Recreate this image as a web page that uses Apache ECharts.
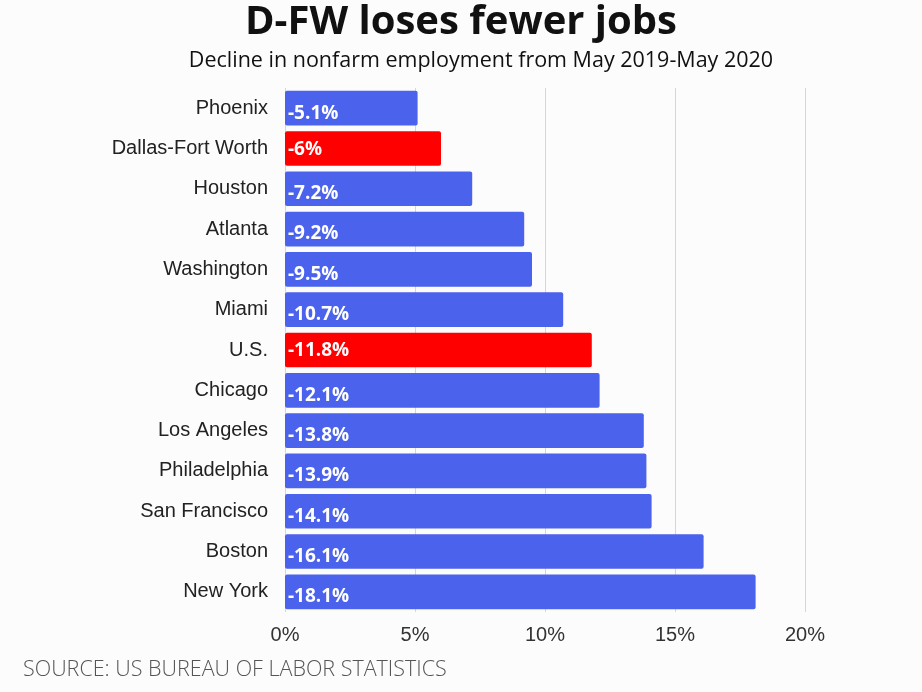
<!DOCTYPE html>
<html>
<head>
<meta charset="utf-8">
<script src="https://cdn.jsdelivr.net/npm/echarts@6/dist/echarts.min.js"></script>
<style>
  html, body { margin: 0; padding: 0; background: #fcfcfc; }
  #chart { width: 922px; height: 692px; }
</style>
</head>
<body>
<div id="chart"></div>
<script>
// 城市及就业下降比例（%）
var cities = ['Phoenix', 'Dallas-Fort Worth', 'Houston', 'Atlanta', 'Washington', 'Miami', 'U.S.',
  'Chicago', 'Los Angeles', 'Philadelphia', 'San Francisco', 'Boston', 'New York']
var declines = [5.1, 6, 7.2, 9.2, 9.5, 10.7, 11.8, 12.1, 13.8, 13.9, 14.1, 16.1, 18.1]
var highlight = ['Dallas-Fort Worth', 'U.S.']

var blue = '#4a62ec'
var red = '#ff0000'

var chart = echarts.init(document.getElementById('chart'))

var barData = declines.map(function (v, i) {
  var isRed = highlight.indexOf(cities[i]) > -1
  return {
    value: v,
    itemStyle: { color: isRed ? red : blue },
    label: { offset: isRed ? [0, 1] : [0, 5] }
  }
})

var option = {
  backgroundColor: '#fcfcfc',
  animation: false,
  title: [
    {
      text: 'D-FW loses fewer jobs',
      left: 'center',
      top: -2,
      textStyle: { fontFamily: 'Open Sans', fontWeight: 'bold', fontSize: 40, color: '#111' }
    },
    {
      text: 'Decline in nonfarm employment from May 2019-May 2020',
      left: 476,
      textAlign: 'center',
      top: 45,
      textStyle: { fontFamily: 'Open Sans', fontWeight: 'normal', fontSize: 21.5, color: '#111' }
    },
    {
      text: 'SOURCE: US BUREAU OF LABOR STATISTICS',
      left: 18,
      top: 654,
      textStyle: { fontFamily: 'Open Sans', fontWeight: 300, fontSize: 21.5, color: '#555' }
    }
  ],
  grid: { left: 285, right: 117, top: 88, bottom: 80 },
  xAxis: {
    type: 'value',
    min: 0,
    max: 20,
    interval: 5,
    axisLine: { show: false },
    axisTick: { show: false },
    axisLabel: {
      formatter: '{value}%',
      fontFamily: 'Liberation Sans',
      fontSize: 20,
      color: '#333',
      margin: 13
    },
    splitLine: { lineStyle: { color: '#d6d6d6', width: 1 } }
  },
  yAxis: {
    type: 'category',
    data: cities,
    inverse: true,
    axisLine: { show: false },
    axisTick: { show: false },
    axisLabel: {
      fontFamily: 'Liberation Sans',
      fontSize: 20,
      color: '#222',
      margin: 17,
      padding: [4, 0, 0, 0]
    }
  },
  series: [
    {
      type: 'bar',
      data: barData,
      barCategoryGap: '14%',
      itemStyle: { borderRadius: 2 },
      label: {
        show: true,
        position: 'insideLeft',
        distance: 3,
        color: '#fff',
        fontFamily: 'Open Sans',
        fontWeight: 'bold',
        fontSize: 19,
        formatter: function (p) { return '-' + p.value + '%' }
      }
    }
  ]
}

chart.setOption(option)
</script>
</body>
</html>
